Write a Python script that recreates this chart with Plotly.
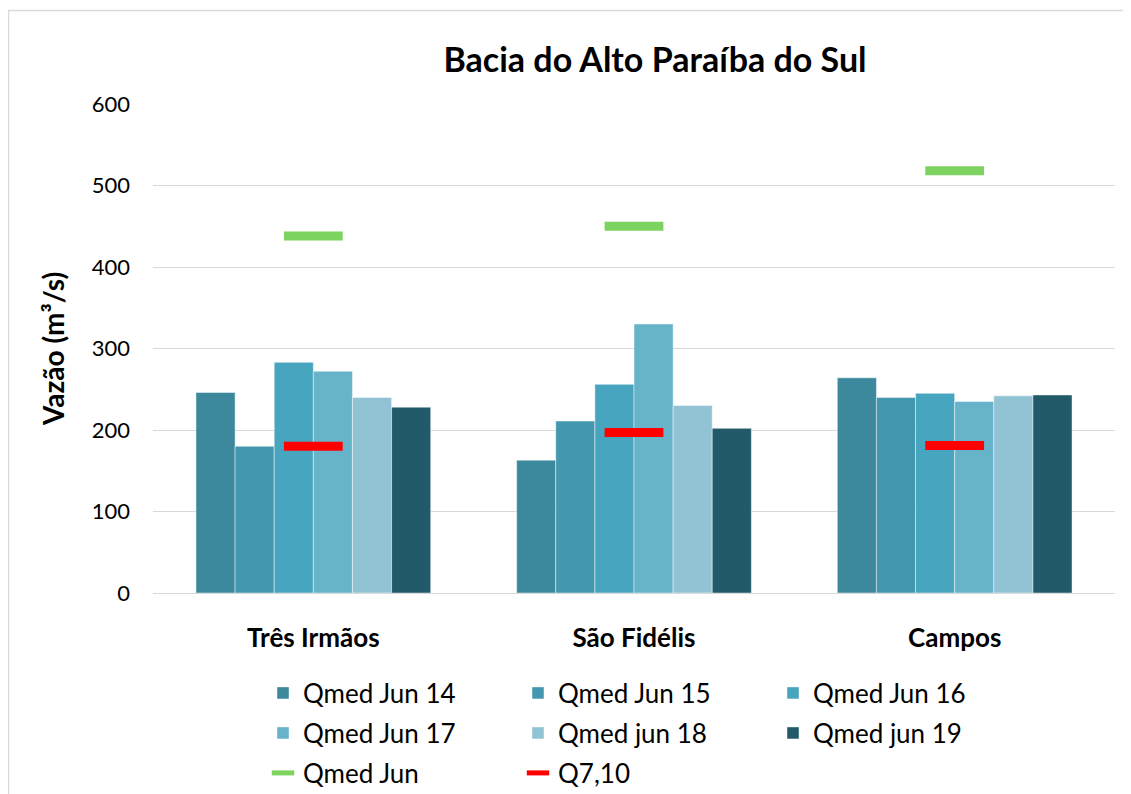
import plotly.graph_objects as go

categories = ["Três Irmãos", "São Fidélis", "Campos"]
series_names = ["Qmed Jun 14", "Qmed Jun 15", "Qmed Jun 16", "Qmed Jun 17", "Qmed jun 18", "Qmed jun 19"]
qmed_jun14 = [246, 163, 264]
qmed_jun15 = [180, 211, 240]
qmed_jun16 = [283, 256, 245]
qmed_jun17 = [272, 330, 235]
qmed_jun18 = [240, 230, 242]
qmed_jun19 = [228, 202, 243]
qmed_jun = [438, 450, 518]
q7_10 = [180, 197, 181]
y_ticks = [0, 100, 200, 300, 400, 500, 600]

bar_colors = ["#3C889D", "#4397AE", "#48A5BF", "#67B3CA", "#92C3D5", "#225A6A"]
series_values = [qmed_jun14, qmed_jun15, qmed_jun16, qmed_jun17, qmed_jun18, qmed_jun19]

FONT = "Lato"
OFF = 8  # page body margin
W, H = 1131 - OFF, 794 - OFF
L, R, T, B = 153 - OFF, 16, 104 - OFF, 794 - 593
PW, PH = W - L - R, H - T - B

fig = go.Figure()
legend_ids = ["legend", "legend", "legend", "legend2", "legend2", "legend2"]
for name, vals, col, lg in zip(series_names, series_values, bar_colors, legend_ids):
    fig.add_trace(go.Bar(
        x=categories, y=vals, name=name, legend=lg,
        marker=dict(color=col, line=dict(color="rgba(255,255,255,0.45)", width=1)),
    ))

fig.add_trace(go.Scatter(
    x=categories, y=qmed_jun, name="Qmed Jun", mode="markers", legend="legend3",
    marker=dict(symbol="line-ew", size=42, color="#7DD35F",
                line=dict(color="#7DD35F", width=9)),
))
fig.add_trace(go.Scatter(
    x=categories, y=q7_10, name="Q7,10", mode="markers", legend="legend3",
    marker=dict(symbol="line-ew", size=42, color="#FF0000",
                line=dict(color="#FF0000", width=9)),
))

def sx(px):  # screen x -> paper x
    return (px - OFF - L) / PW

def sy(py):  # screen y -> paper y
    return (H - B - (py - OFF)) / PH

leg_common = dict(
    orientation="h", xref="container", yref="container",
    x=(263 - OFF) / W, xanchor="left", yanchor="middle",
    font=dict(family=FONT, size=26, color="#000000"),
    entrywidth=210, bgcolor="rgba(0,0,0,0)", borderwidth=0,
    itemclick=False,
)

fig.update_layout(
    width=W, height=H,
    margin=dict(l=L, r=R, t=T, b=B, autoexpand=False),
    paper_bgcolor="white", plot_bgcolor="white",
    barmode="group", bargap=0.268, bargroupgap=0,
    title=dict(text="<b>Bacia do Alto Paraíba do Sul</b>", x=(655 - OFF) / W, xanchor="center",
               y=1 - (60 - OFF) / H, yanchor="middle",
               font=dict(family=FONT, size=34, color="#000000")),
    font=dict(family=FONT, color="#000000"),
    legend=dict(leg_common, y=1 - (693 - OFF) / H),
    legend2=dict(leg_common, y=1 - (733 - OFF) / H),
    legend3=dict(leg_common, y=1 - (773 - OFF) / H),
    xaxis=dict(
        tickfont=dict(family=FONT, size=26, color="#000000"),
        tickprefix="<b>", ticksuffix="</b>",
        showgrid=False, showline=True, linecolor="#D9D9D9", linewidth=1,
        ticks="", ticklabelstandoff=22,
    ),
    yaxis=dict(
        range=[0, 600], tickvals=y_ticks,
        tickfont=dict(family=FONT, size=22, color="#000000"),
        showgrid=True, gridcolor="#D9D9D9", gridwidth=1,
        zeroline=False, showline=False, ticks="", ticklabelstandoff=22,
        title=dict(text="<b>Vazão (m³/s)</b>", font=dict(family=FONT, size=28, color="#000000"),
                   standoff=18),
    ),
    shapes=[dict(type="rect", xref="paper", yref="paper",
                 x0=sx(8.5), x1=sx(1128), y0=sy(800), y1=sy(10.5),
                 line=dict(color="#D9D9D9", width=1.5), fillcolor="rgba(0,0,0,0)", layer="below")],
)

fig.write_html("out.html")
